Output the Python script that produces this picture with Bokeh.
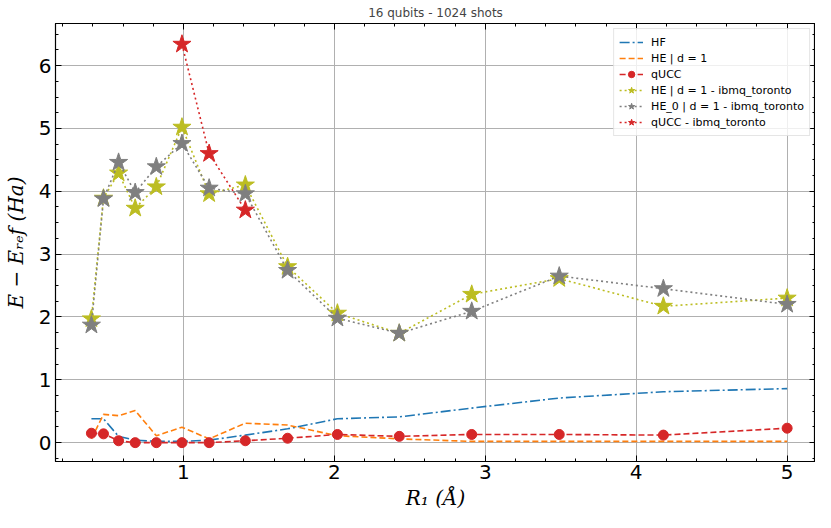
from bokeh.plotting import figure
from bokeh.models import LinearAxis, SingleIntervalTicker, Range1d, Legend, CustomLabelingPolicy
from bokeh.embed import file_html
from bokeh.resources import INLINE

# ---- data ----
R1 = [0.39, 0.47, 0.57, 0.68, 0.82, 0.99, 1.17, 1.41, 1.69, 2.02, 2.43, 2.91, 3.49, 4.18, 5.0]
HF = [0.38, 0.38, 0.10, 0.04, 0.02, 0.02, 0.04, 0.12, 0.22, 0.38, 0.41, 0.55, 0.71, 0.81, 0.86]
HE_d1 = [0.06, 0.45, 0.43, 0.51, 0.11, 0.245, 0.06, 0.31, 0.28, 0.11, 0.06, 0.02, 0.02, 0.02, 0.02]
qUCC = [0.15, 0.14, 0.03, 0.0, 0.0, 0.0, 0.0, 0.03, 0.07, 0.13, 0.10, 0.13, 0.13, 0.12, 0.23]
HE_d1_toronto = [1.97, 3.89, 4.29, 3.73, 4.07, 5.02, 3.96, 4.10, 2.80, 2.06, 1.74, 2.36, 2.61, 2.17, 2.30]
HE0_d1_toronto = [1.87, 3.88, 4.46, 3.98, 4.39, 4.76, 4.05, 3.96, 2.74, 1.98, 1.74, 2.09, 2.65, 2.45, 2.20]
R1_qUCC_toronto = [0.99, 1.17, 1.41]
qUCC_toronto = [6.34, 4.60, 3.70]

labels = ["HF", "HE | d = 1", "qUCC", "HE | d = 1 - ibmq_toronto",
          "HE_0 | d = 1 - ibmq_toronto", "qUCC - ibmq_toronto"]
x_ticks_interval = 1
y_ticks_interval = 1

FONT = "DejaVu Sans"

p = figure(width=815, height=512, output_backend="svg", toolbar_location=None,
           x_range=Range1d(0.152, 5.188), y_range=Range1d(-0.30, 6.67),
           title="16 qubits - 1024 shots", min_border_right=0, min_border_top=0,
           min_border_bottom=0, min_border_left=0)

p.title.align = "center"
p.title.text_font = FONT
p.title.text_font_size = "12px"
p.title.text_font_style = "normal"
p.title.standoff = 7

bottom_ax = p.below[0]
left_ax = p.left[0]

xt = SingleIntervalTicker(interval=x_ticks_interval, num_minor_ticks=5)
yt = SingleIntervalTicker(interval=y_ticks_interval, num_minor_ticks=4)

bottom_ax.ticker = xt
left_ax.ticker = yt
p.xgrid.ticker = xt
p.ygrid.ticker = yt

for g in (p.xgrid, p.ygrid):
    g.grid_line_color = "#b0b0b0"
    g.grid_line_width = 1

p.outline_line_color = "black"
p.outline_line_width = 1.2

hide = "return new Set()"
top_ax = LinearAxis(ticker=xt, major_label_policy=CustomLabelingPolicy(code=hide))
right_ax = LinearAxis(ticker=yt, major_label_policy=CustomLabelingPolicy(code=hide))
p.add_layout(top_ax, "above")
p.add_layout(right_ax, "right")

for ax in [bottom_ax, left_ax, top_ax, right_ax]:
    ax.major_tick_in = 6
    ax.major_tick_out = 0
    ax.minor_tick_in = 3
    ax.minor_tick_out = 0
    ax.axis_line_color = "black"
    ax.major_tick_line_color = "black"
    ax.minor_tick_line_color = "black"
    ax.major_label_text_font = FONT
    ax.major_label_text_font_size = "20px"
    ax.major_label_text_color = "black"

for ax in [top_ax, right_ax]:
    ax.major_label_standoff = 0
    ax.major_label_text_font_size = "0px"

bottom_ax.major_label_standoff = 3
left_ax.major_label_standoff = 4
bottom_ax.axis_label = "R\u2081 (\u00c5)"
left_ax.axis_label = "E \u2212 E\u1d63\u2091f (Ha)"
for ax in [bottom_ax, left_ax]:
    ax.axis_label_text_font = "DejaVu Serif"
    ax.axis_label_text_font_style = "italic"
    ax.axis_label_text_font_size = "20px"
    ax.axis_label_text_color = "black"
bottom_ax.axis_label_standoff = 4
left_ax.axis_label_standoff = 8

c_hf, c_he, c_q = "#1f77b4", "#ff7f0e", "#d62728"
c_y, c_g = "#bcbd22", "#7f7f7f"

items = []
r = p.line(R1, HF, line_color=c_hf, line_width=1.6, line_dash="10 3 2 3")
items.append((labels[0], [r]))
r = p.line(R1, HE_d1, line_color=c_he, line_width=1.6, line_dash="6 3")
items.append((labels[1], [r]))
r1 = p.line(R1, qUCC, line_color=c_q, line_width=1.6, line_dash="6 3")
r2 = p.scatter(R1, qUCC, marker="circle", size=10, fill_color=c_q, line_color=c_q)
items.append((labels[2], [r1, r2]))
r1 = p.line(R1, HE_d1_toronto, line_color=c_y, line_width=1.6, line_dash="2 3")
r2 = p.scatter(R1, HE_d1_toronto, marker="star", size=19, fill_color=c_y, line_color=c_y)
items.append((labels[3], [r1, r2]))
r1 = p.line(R1, HE0_d1_toronto, line_color=c_g, line_width=1.6, line_dash="2 3")
r2 = p.scatter(R1, HE0_d1_toronto, marker="star", size=19, fill_color=c_g, line_color=c_g)
items.append((labels[4], [r1, r2]))
r1 = p.line(R1_qUCC_toronto, qUCC_toronto, line_color=c_q, line_width=1.6, line_dash="2 3")
r2 = p.scatter(R1_qUCC_toronto, qUCC_toronto, marker="star", size=19, fill_color=c_q, line_color=c_q)
items.append((labels[5], [r1, r2]))

legend = Legend(items=items, location="top_right")
legend.label_text_font = FONT
legend.label_text_font_size = "11px"
legend.label_text_color = "black"
legend.glyph_width = 24
legend.glyph_height = 16
legend.label_height = 16
legend.spacing = 0
legend.padding = 5
legend.margin = 5
legend.label_standoff = 8
legend.border_line_color = "#cccccc"
legend.border_line_width = 1
legend.background_fill_alpha = 0.8
p.add_layout(legend, "center")

open("out.html", "w").write(file_html(p, INLINE))
